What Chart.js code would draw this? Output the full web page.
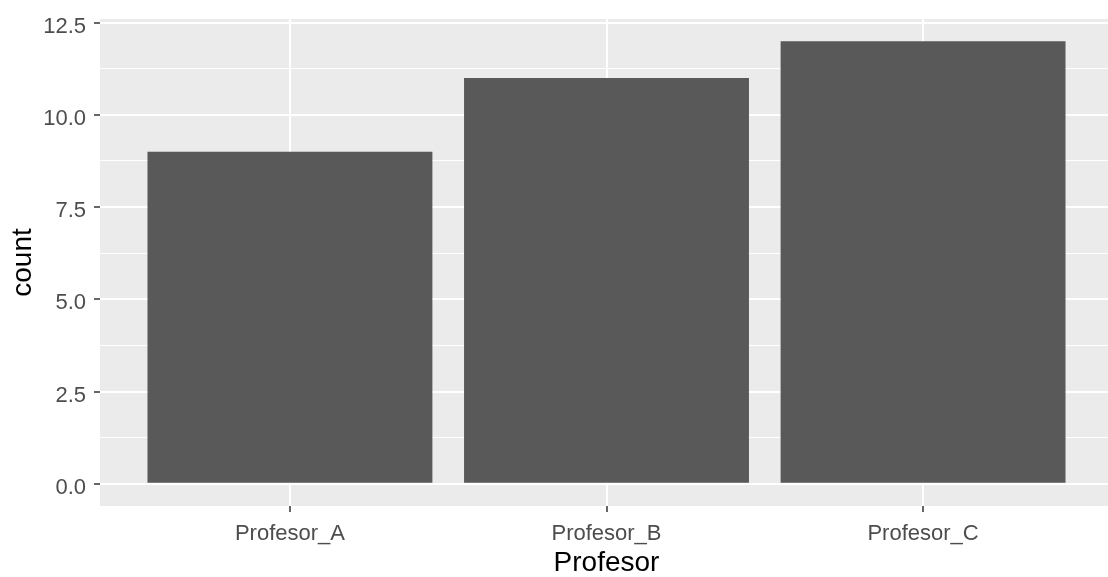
<!DOCTYPE html>
<html>
<head>
<meta charset="utf-8">
<script src="https://cdn.jsdelivr.net/npm/chart.js@4/dist/chart.umd.min.js"></script>
<style>
  html, body { margin: 0; padding: 0; background: #fff; overflow: hidden; }
  #wrap { width: 1108px; height: 577px; overflow: hidden; }
</style>
</head>
<body>
<div id="wrap"><canvas id="chart" width="1114" height="577"></canvas></div>
<script>
const categories = ['Profesor_A', 'Profesor_B', 'Profesor_C'];
const counts = [9, 11, 12];
const yMajorTicks = [0, 2.5, 5, 7.5, 10, 12.5];
const yTickLabels = ['0.0', '2.5', '5.0', '7.5', '10.0', '12.5'];
const yMinorTicks = [1.25, 3.75, 6.25, 8.75, 11.25];

const FONT = "'Liberation Sans', Arial, sans-serif";

// grey panel behind the plot, like ggplot's theme_grey
const panelBg = {
    id: 'panelBg',
    beforeDraw(chart) {
        const { ctx, chartArea: a } = chart;
        ctx.save();
        ctx.fillStyle = '#EBEBEB';
        ctx.fillRect(a.left, a.top, a.right - a.left, a.bottom - a.top);
        ctx.restore();
    }
};

const isMajor = v => yMajorTicks.includes(v);

new Chart(document.getElementById('chart').getContext('2d'), {
    type: 'bar',
    data: {
        datasets: [{
            label: 'count',
            data: categories.map((c, i) => ({ x: i + 1, y: counts[i] })),
            backgroundColor: '#595959',
            borderWidth: 0,
            categoryPercentage: 1,
            barPercentage: 0.9,
        }],
    },
    options: {
        responsive: false,
        animation: false,
        layout: { padding: { top: 16, right: 1, left: 0, bottom: 0 } },
        plugins: { legend: { display: false }, tooltip: { enabled: false } },
        scales: {
            x: {
                type: 'linear',
                min: 0.4,
                max: 3.6,
                offset: false,
                afterBuildTicks: s => { s.ticks = categories.map((c, i) => ({ value: i + 1 })); },
                afterFit: s => { s.height = 71; },
                border: { display: false },
                grid: {
                    offset: false,
                    color: '#FFFFFF',
                    lineWidth: 2,
                    drawTicks: true,
                    tickLength: 6,
                    tickColor: '#333333',
                    tickWidth: 1.5,
                },
                ticks: {
                    padding: 11,
                    color: '#4D4D4D',
                    font: { family: FONT, size: 22, lineHeight: 1 },
                    maxRotation: 0,
                    autoSkip: false,
                    callback: v => categories[Math.round(v) - 1],
                },
                title: {
                    display: true,
                    text: 'Profesor',
                    color: '#000000',
                    font: { family: FONT, size: 28, lineHeight: 1 },
                    padding: { top: 0, bottom: 0 },
                },
            },
            y: {
                min: -0.6,
                max: 12.6,
                afterBuildTicks: s => {
                    s.ticks = yMajorTicks.concat(yMinorTicks).sort((a, b) => a - b).map(v => ({ value: v }));
                },
                afterFit: s => { s.width = 100; },
                border: { display: false },
                grid: {
                    color: '#FFFFFF',
                    lineWidth: c => isMajor(c.tick.value) ? 2 : 1.1,
                    drawTicks: true,
                    tickLength: 6,
                    tickColor: c => isMajor(c.tick.value) ? '#333333' : 'rgba(0,0,0,0)',
                    tickWidth: 1.5,
                },
                ticks: {
                    padding: 8,
                    labelOffset: 4,
                    color: '#4D4D4D',
                    font: { family: FONT, size: 22, lineHeight: 1 },
                    autoSkip: false,
                    callback: v => {
                        const i = yMajorTicks.indexOf(v);
                        return i >= 0 ? yTickLabels[i] : '';
                    },
                },
                title: {
                    display: true,
                    text: 'count',
                    color: '#000000',
                    font: { family: FONT, size: 28, lineHeight: 1 },
                    padding: { top: 9, bottom: 0 },
                },
            },
        },
    },
    plugins: [panelBg],
});
</script>
</body>
</html>
